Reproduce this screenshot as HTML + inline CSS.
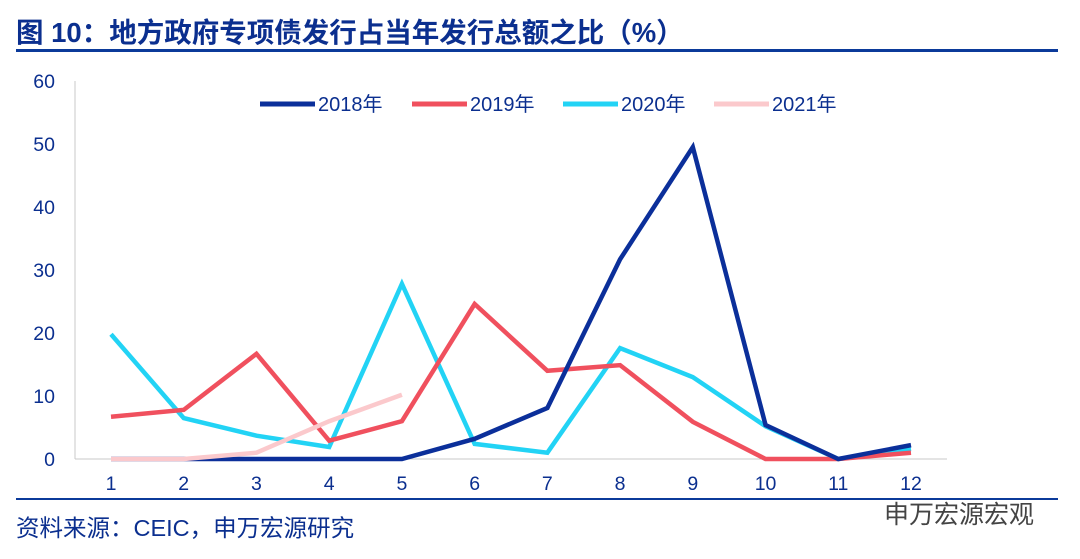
<!DOCTYPE html>
<html><head><meta charset="utf-8"><style>
body{margin:0;width:1080px;height:559px;background:#fff;overflow:hidden;font-family:"Liberation Sans","Noto Sans CJK SC",sans-serif}
svg{position:absolute;left:0;top:0}
</style></head><body>
<svg width="1080" height="559">
<text x="16" y="42" font-size="27.5" font-weight="bold" fill="#0b2f8f" font-family="Liberation Sans,Noto Sans CJK SC,sans-serif">图 10：地方政府专项债发行占当年发行总额之比（%）</text>
<rect x="16" y="49" width="1042" height="3" fill="#0b3a9a"/>
<rect x="16" y="498" width="1042" height="2" fill="#0b3a9a"/>
<text x="16" y="536" font-size="23.5" fill="#0b2f8f">资料来源：CEIC，申万宏源研究</text>
<text x="884" y="523" font-size="25" fill="#444">申万宏源宏观</text>
<g id="plot"></g>
</svg>
<script>
const months=[1,2,3,4,5,6,7,8,9,10,11,12];
const yTicks=[0,10,20,30,40,50,60];
const s2018=[0,0,0,0,0,3.2,8.1,31.7,49.5,5.4,0,2.2];
const s2019=[6.7,7.8,16.7,2.9,6,24.6,14,14.9,5.9,0,0,1];
const s2020=[19.8,6.5,3.7,1.9,27.8,2.4,1,17.6,13,5.2,0,1.6];
const s2021=[0,0,1,6,10.2];
const seriesNames=["2018年","2019年","2020年","2021年"];
const colors=["#0b2f9a","#f0505e","#22d3f5","#fbc9cc"];
const xs=m=>111+(m-1)*(800/11);
const ys=v=>459-v*6.3;
const ns="http://www.w3.org/2000/svg";
const g=document.getElementById('plot');
function mk(t,a){const e=document.createElementNS(ns,t);for(const k in a)e.setAttribute(k,a[k]);g.appendChild(e);return e;}
let ax=mk('line',{x1:75,y1:81,x2:75,y2:459,stroke:'#c8c8c8','stroke-width':1});


let bx=mk('line',{x1:75,y1:459,x2:947,y2:459,stroke:'#c8c8c8','stroke-width':1});


yTicks.forEach(v=>{const t=mk('text',{x:55,y:ys(v)+7,'font-size':19.5,fill:'#0b2f8f','text-anchor':'end'});t.textContent=v;

});
months.forEach(m=>{const t=mk('text',{x:xs(m),y:490,'font-size':19.5,fill:'#0b2f8f','text-anchor':'middle'});t.textContent=m;

});
const all=[s2018,s2019,s2020,s2021];
[2,1,0,3].forEach(i=>{const d=all[i];
const p=mk('polyline',{points:d.map((v,j)=>xs(months[j])+','+ys(v)).join(' '),fill:'none',stroke:colors[i],'stroke-width':4.5,'stroke-linejoin':'miter'});

});
const lx=[260,412,563,714];
seriesNames.forEach((n,i)=>{const l=mk('line',{x1:lx[i],y1:104,x2:lx[i]+55,y2:104,stroke:colors[i],'stroke-width':5});


const t=mk('text',{x:lx[i]+58,y:111,'font-size':20,fill:'#0b2f8f'});t.textContent=n;

});
</script>
</body></html>
